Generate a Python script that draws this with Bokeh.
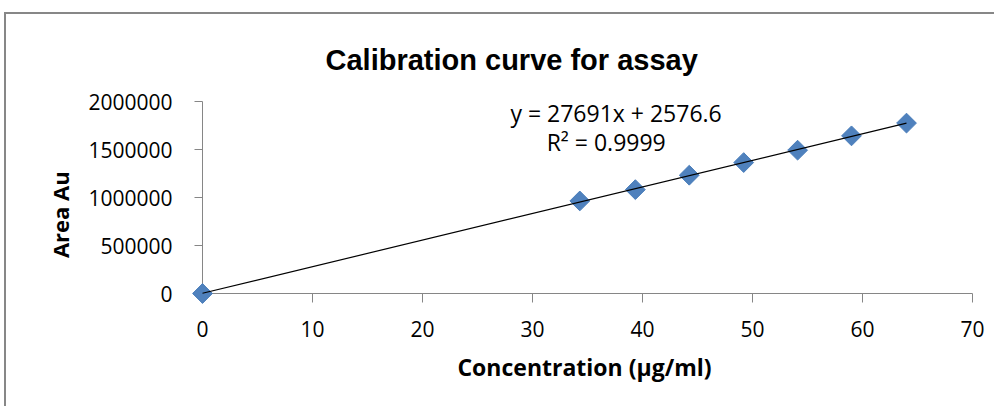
import numpy as np
from bokeh.plotting import figure
from bokeh.models import Label, Range1d, BasicTickFormatter
from bokeh.embed import file_html
from bokeh.resources import INLINE

# ---- data ----
concentration = [0, 34.3, 39.35, 44.25, 49.2, 54.1, 59.0, 64.0]
area = [0, 964000, 1082000, 1232000, 1364000, 1493000, 1642000, 1775000]
slope = 27691
intercept = 2576.6
r_squared = 0.9999
x_ticks = [0, 10, 20, 30, 40, 50, 60, 70]
y_ticks = [0, 500000, 1000000, 1500000, 2000000]
title_text = "Calibration curve for assay"
x_label = "Concentration  (µg/ml)"
y_label = "Area Au"

AXIS_GRAY = "#868686"
TEXT_FONT = "Open Sans"

p = figure(width=990, height=394, output_backend="svg", toolbar_location=None,
           x_range=Range1d(0, 70), y_range=Range1d(0, 2000000),
           min_border_left=196, min_border_right=24, min_border_top=87,
           min_border_bottom=115, background_fill_color="white",
           border_fill_color="white")
p.styles = {"border-left": "2px solid #878787", "border-top": "2px solid #878787",
            "margin-left": "4px", "margin-top": "12px"}
p.outline_line_color = None
p.grid.visible = False

p.title.text = title_text
p.title.align = "left"
p.title.offset = 123
p.title.text_font = "Liberation Sans"
p.title.text_font_style = "bold"
p.title.text_font_size = "29px"
p.title.text_color = "black"
p.title.standoff = 52

p.xaxis.ticker = x_ticks
p.yaxis.ticker = y_ticks
p.yaxis.formatter = BasicTickFormatter(use_scientific=False)
for ax in (p.xaxis, p.yaxis):
    ax.axis_line_color = AXIS_GRAY
    ax.major_tick_line_color = AXIS_GRAY
    ax.minor_tick_line_color = None
    ax.major_tick_in = 0
    ax.major_label_text_font = TEXT_FONT
    ax.major_label_text_font_size = "21px"
    ax.major_label_text_color = "black"
    ax.axis_label_text_font = TEXT_FONT
    ax.axis_label_text_font_style = "bold"
    ax.axis_label_text_color = "black"
p.xaxis.major_tick_out = 9
p.yaxis.major_tick_out = 8
p.yaxis.major_label_standoff = 22
p.xaxis.major_label_standoff = 18

p.xaxis.axis_label = x_label
p.xaxis.axis_label_text_font_size = "23px"
p.xaxis.axis_label_standoff = 11

p.yaxis.axis_label = y_label + "\u00a0" * 6
p.yaxis.axis_label_text_font_size = "22px"
p.yaxis.axis_label_standoff = 10

# markers then trendline on top
p.scatter(concentration, area, marker="square", size=14, angle=np.pi / 4,
          fill_color="#4F81BD", line_color="#4A7EBB", level="overlay")
x_fit = np.array([min(concentration), max(concentration)])
y_fit = slope * x_fit + intercept
p.line(x_fit, y_fit, line_color="black", line_width=1.2, level="overlay")

p.add_layout(Label(x=37.6, y=1885000, text=f"y = {slope}x + {intercept}",
                   text_align="center", text_baseline="middle", text_font=TEXT_FONT,
                   text_font_size="23px", text_color="black"))
p.add_layout(Label(x=36.7, y=1573000, text=f"R² = {r_squared}",
                   text_align="center", text_baseline="middle", text_font=TEXT_FONT,
                   text_font_size="23px", text_color="black"))

open("out.html", "w").write(file_html(p, INLINE))
